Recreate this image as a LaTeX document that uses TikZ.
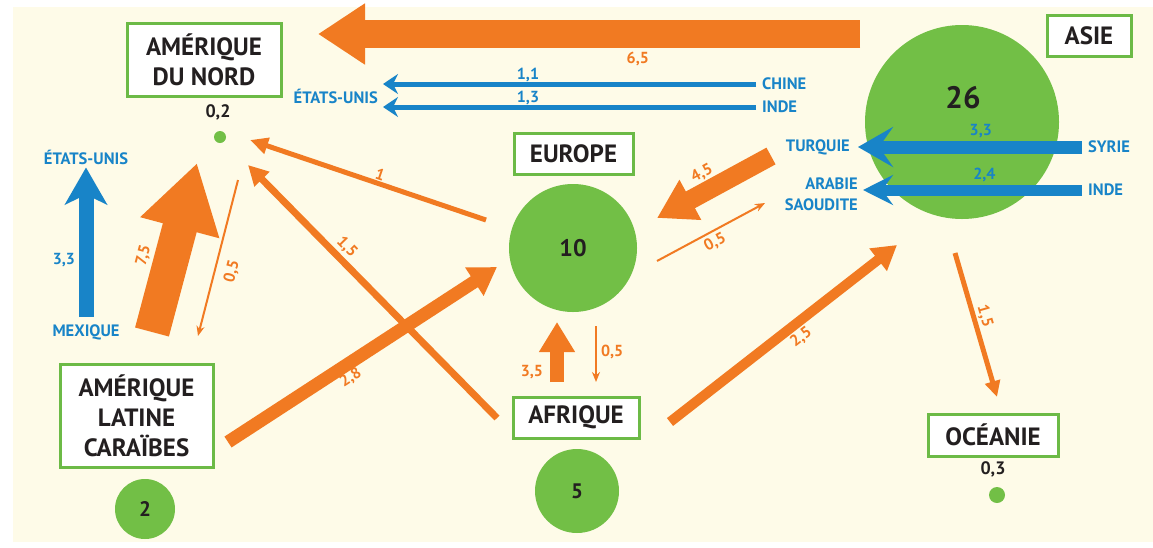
\documentclass[tikz,border=0pt]{standalone}
\usepackage{fontspec}
\setmainfont{PT Sans}
\usetikzlibrary{arrows.meta}
\definecolor{cream}{RGB}{254,251,232}
\definecolor{migorange}{RGB}{241,122,34}
\definecolor{migblue}{RGB}{24,132,200}
\definecolor{boxgreen}{RGB}{108,186,70}
\definecolor{discgreen}{RGB}{114,191,70}
\definecolor{ink}{RGB}{35,31,32}

\begin{document}
\begin{tikzpicture}[x=1pt, y=-1pt]
        \tikzset{
          region/.style={draw=boxgreen, line width=3pt, fill=white, text=ink, align=center,
            font=\fontsize{25}{30}\selectfont\bfseries, inner sep=0pt},
          disc/.style={circle, fill=discgreen, text=ink, inner sep=0pt},
          bluelbl/.style={text=migblue, font=\fontsize{16.5}{21}\selectfont\bfseries, inner sep=1pt},
          bluelink/.style={color=migblue, font=\fontsize{16}{18}\selectfont\bfseries, inner sep=1pt, outer sep=0pt},
          flow/.style={color=migorange, font=\fontsize{16}{18}\selectfont\bfseries, inner sep=1pt, outer sep=0pt},
          thinflow/.style={flow, line width=2pt, -{Stealth[length=10pt, width=8pt]}}
        }

	\useasboundingbox (0,0) rectangle (1153,547);
	\fill[cream] (13,7) rectangle (1153,542);

	% circles
	\foreach \n/\cx/\cy/\r/\s/\t in {asC/962/122/97/30/{}, euC/573/248/64/24/10,
	    afC/577/491/42/21/5, alC/145/509/30/21/2, naC/220/137/6/10/{}, ocC/997/495/8/10/{}} {
	    \node[disc, minimum size=2*\r pt, font=\fontsize{\s}{\s}\selectfont\bfseries] (\n) at (\cx,\cy) {\t};
	    }
	\node[text=ink, font=\fontsize{31}{31}\selectfont\bfseries] (asV) at (963,98) {26};
	\node[text=ink, font=\fontsize{18}{18}\selectfont\bfseries] (naV) at (218,112) {0,2};
	\node[text=ink, font=\fontsize{18}{18}\selectfont\bfseries] (ocV) at (993,469) {0,3};

	% region boxes
	\foreach \n/\cx/\cy/\w/\h/\t in {an/204/59.5/154/73/{AMÉRIQUE\\DU NORD},
	    eu/573.5/153.5/119/41/EUROPE, af/576/417.5/126/41/AFRIQUE,
	    al/136.5/415.5/153/103/{AMÉRIQUE\\LATINE\\CARAÏBES},
	    oc/993/435/130/42/OCÉANIE, as/1089/35.5/84/41/ASIE} {
	    \node[region, minimum width=\w pt, minimum height=\h pt] (\n) at (\cx,\cy) {\t};
	    }

	% blue labels
	\node[bluelbl, anchor=east] (usaA) at (379,96) {ÉTATS-UNIS};
	\node[bluelbl, anchor=west] (chine) at (761,84) {CHINE};
	\node[bluelbl, anchor=west] (indeA) at (761,107) {INDE};
	\node[bluelbl, anchor=east] (turq) at (851,147) {TURQUIE};
	\node[bluelbl, anchor=west] (syrie) at (1087,147) {SYRIE};
	\node[bluelbl, anchor=east, align=right] (arabie) at (859,194) {ARABIE\\SAOUDITE};
	\node[bluelbl, anchor=west] (indeB) at (1087,190) {INDE};
	\node[bluelbl] (usaB) at (86,157) {ÉTATS-UNIS};
	\node[bluelbl] (mex) at (86,332) {MEXIQUE};

	% blue flows
	\draw[bluelink, line width=5pt, -{Stealth[length=15pt, width=20pt, inset=5pt]},
	    shorten <=5pt, shorten >=4pt]
	    (chine.west) -- (chine.west -| usaA.east) node[pos=0.61, above=1pt] {1,1};
	\draw[bluelink, line width=5pt, -{Stealth[length=15pt, width=20pt, inset=5pt]},
	    shorten <=5pt, shorten >=4pt]
	    (indeA.west) -- (indeA.west -| usaA.east) node[pos=0.61, above=1pt] {1,3};
	\draw[bluelink, line width=13pt, -{Stealth[length=35pt, width=40pt, inset=14pt]},
	    shorten <=5pt, shorten >=7pt]
	    (syrie.west) -- (turq.east) node[pos=0.45, above=8pt] {3,3};
	\draw[bluelink, line width=11pt, -{Stealth[length=30pt, width=30pt, inset=11pt]},
	    shorten <=5pt, shorten >=4pt]
	    (indeB.west) -- (arabie.east |- indeB.west) node[pos=0.45, above=7pt] {2,4};
	\draw[bluelink, line width=15pt, -{Stealth[length=37pt, width=42pt, inset=10pt]},
	    shorten <=6pt, shorten >=2pt]
	    (mex.north) -- (usaB.south) node[pos=0.4, left=10pt] {3,3};

	% orange flows
	\coordinate (asTailC) at (860,34);  \coordinate (naTipD) at (318,34);
	\coordinate (mexTail) at (152,332); \coordinate (naTipA) at (197,163);
	\coordinate (naTail) at (238,180);  \coordinate (alTip) at (198,336);
	\coordinate (euTailA) at (486,220); \coordinate (naTipB) at (250,140);
	\coordinate (afTailA) at (497,418); \coordinate (naTipC) at (248,165);
	\coordinate (alTail) at (228,442);  \coordinate (euTipA) at (497,267);
	\coordinate (afTailB) at (557,382); \coordinate (euTipB) at (557,322);
	\coordinate (euTailB) at (596,326); \coordinate (afTip) at (596,382);
	\coordinate (asTailA) at (771,156); \coordinate (euTipC) at (657,218);
	\coordinate (euTailC) at (657,261); \coordinate (asTipA) at (765,203);
	\coordinate (afTailC) at (670,422); \coordinate (asTipB) at (897,245);
	\coordinate (asTailB) at (955,253); \coordinate (ocTip) at (997,397);

	\draw[flow, line width=28pt, -{Triangle[length=47pt, width=58pt]}]
	    (asTailC) -- (naTipD) node[pos=0.41, below=17pt] {6,5};
	\draw[flow, line width=35pt, -{Triangle[length=67pt, width=77pt]}]
	    (mexTail) -- (naTipA) node[pos=0.41, sloped, above=20pt] {7,5};
	\draw[thinflow] (naTail) -- (alTip) node[pos=0.56, sloped, below=9pt] {0,5};
	\draw[flow, line width=5pt, -{Triangle[length=18pt, width=16pt]}]
	    (euTailA) -- (naTipB) node[pos=0.46, sloped, above=2pt] {1};
	\draw[flow, line width=7pt, -{Triangle[length=20pt, width=20pt]}]
	    (afTailA) -- (naTipC) node[pos=0.64, sloped, above=5pt] {1,5};
	\draw[flow, line width=13pt, -{Triangle[length=27pt, width=32pt]}]
	    (alTail) -- (euTipA) node[pos=0.43, sloped, below=5pt] {2,8};
	\draw[flow, line width=14pt, -{Triangle[length=30pt, width=34pt]}]
	    (afTailB) -- (euTipB) node[pos=0.17, left=13pt] {3,5};
	\draw[thinflow] (euTailB) -- (afTip) node[pos=0.46, right=4pt] {0,5};
	\draw[flow, line width=19pt, -{Triangle[length=38pt, width=43pt]}]
	    (asTailA) -- (euTipC) node[pos=0.53, sloped, above=10pt] {4,5};
	\draw[thinflow] (euTailC) -- (asTipA) node[pos=0.49, sloped, below=3pt] {0,5};
	\draw[flow, line width=10pt, -{Triangle[length=24pt, width=27pt]}]
	    (afTailC) -- (asTipB) node[pos=0.54, sloped, below=6pt] {2,5};
	\draw[flow, line width=5pt, -{Triangle[length=16pt, width=15pt]}]
	    (asTailB) -- (ocTip) node[pos=0.46, sloped, above=3pt] {1,5};
        \end{tikzpicture}
\end{document}
